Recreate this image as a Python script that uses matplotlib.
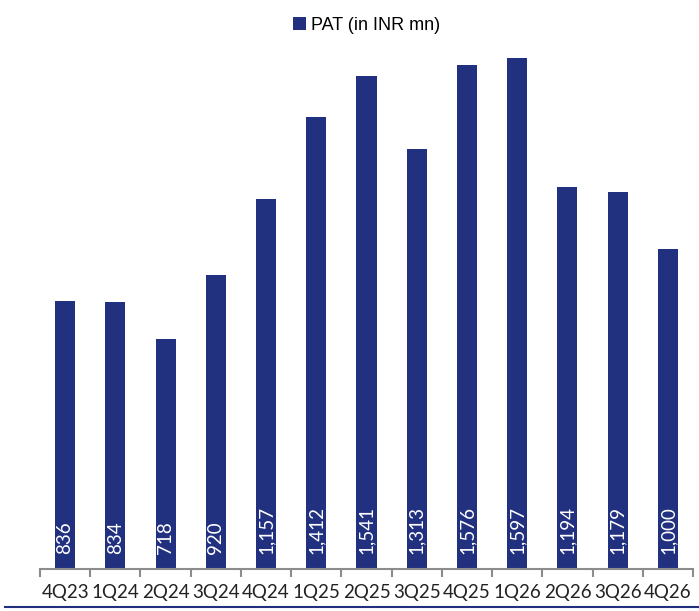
import matplotlib
matplotlib.use("Agg")
import matplotlib.pyplot as plt
from matplotlib.lines import Line2D
import numpy as np

categories = ["4Q23", "1Q24", "2Q24", "3Q24", "4Q24", "1Q25", "2Q25", "3Q25",
              "4Q25", "1Q26", "2Q26", "3Q26", "4Q26"]
pat = [836, 834, 718, 920, 1157, 1412, 1541, 1313, 1576, 1597, 1194, 1179, 1000]
labels = ["836", "834", "718", "920", "1,157", "1,412", "1,541", "1,313",
          "1,576", "1,597", "1,194", "1,179", "1,000"]

plt.rcParams['font.family'] = ['Lato', 'DejaVu Sans']
navy = "#22317F"

fig = plt.figure(figsize=(6.99, 6.11), dpi=100)
ax = fig.add_axes([40/699, 42/611, 653/699, (569-25)/611])

x = np.arange(len(categories))
bars = ax.bar(x, pat, width=0.4, color=navy, label="PAT (in INR mn)")
for xi, lab in zip(x, labels):
    ax.text(xi, 48, lab, rotation=90, ha="center", va="bottom", color="white",
            fontsize=13.5)

ax.set_xlim(-0.5, len(categories) - 0.5)
ax.set_ylim(0, 1700)
ax.set_yticks([])
for s in ["top", "right", "left"]:
    ax.spines[s].set_visible(False)
ax.spines["bottom"].set_color("#8c8c8c")
ax.spines["bottom"].set_linewidth(1.5)
ax.set_xticks(x)
ax.set_xticklabels(categories, fontsize=13.5, color="#222222")
ax.tick_params(axis="x", which="major", length=0, pad=11)
ax.set_xticks(np.arange(-0.5, len(categories)), minor=True)
ax.tick_params(axis="x", which="minor", length=6, width=1.5, color="#8c8c8c")

ax.legend(loc="upper center", bbox_to_anchor=(0.5, 1.045), frameon=False,
          prop={"family": "Liberation Sans", "size": 13},
          handlelength=0.7, handleheight=0.7, handletextpad=0.3)

fig.add_artist(Line2D([5/699, 1.0], [4/611, 4/611], color=navy, linewidth=1.5,
                      transform=fig.transFigure))

fig.savefig("out.png", dpi=100)
